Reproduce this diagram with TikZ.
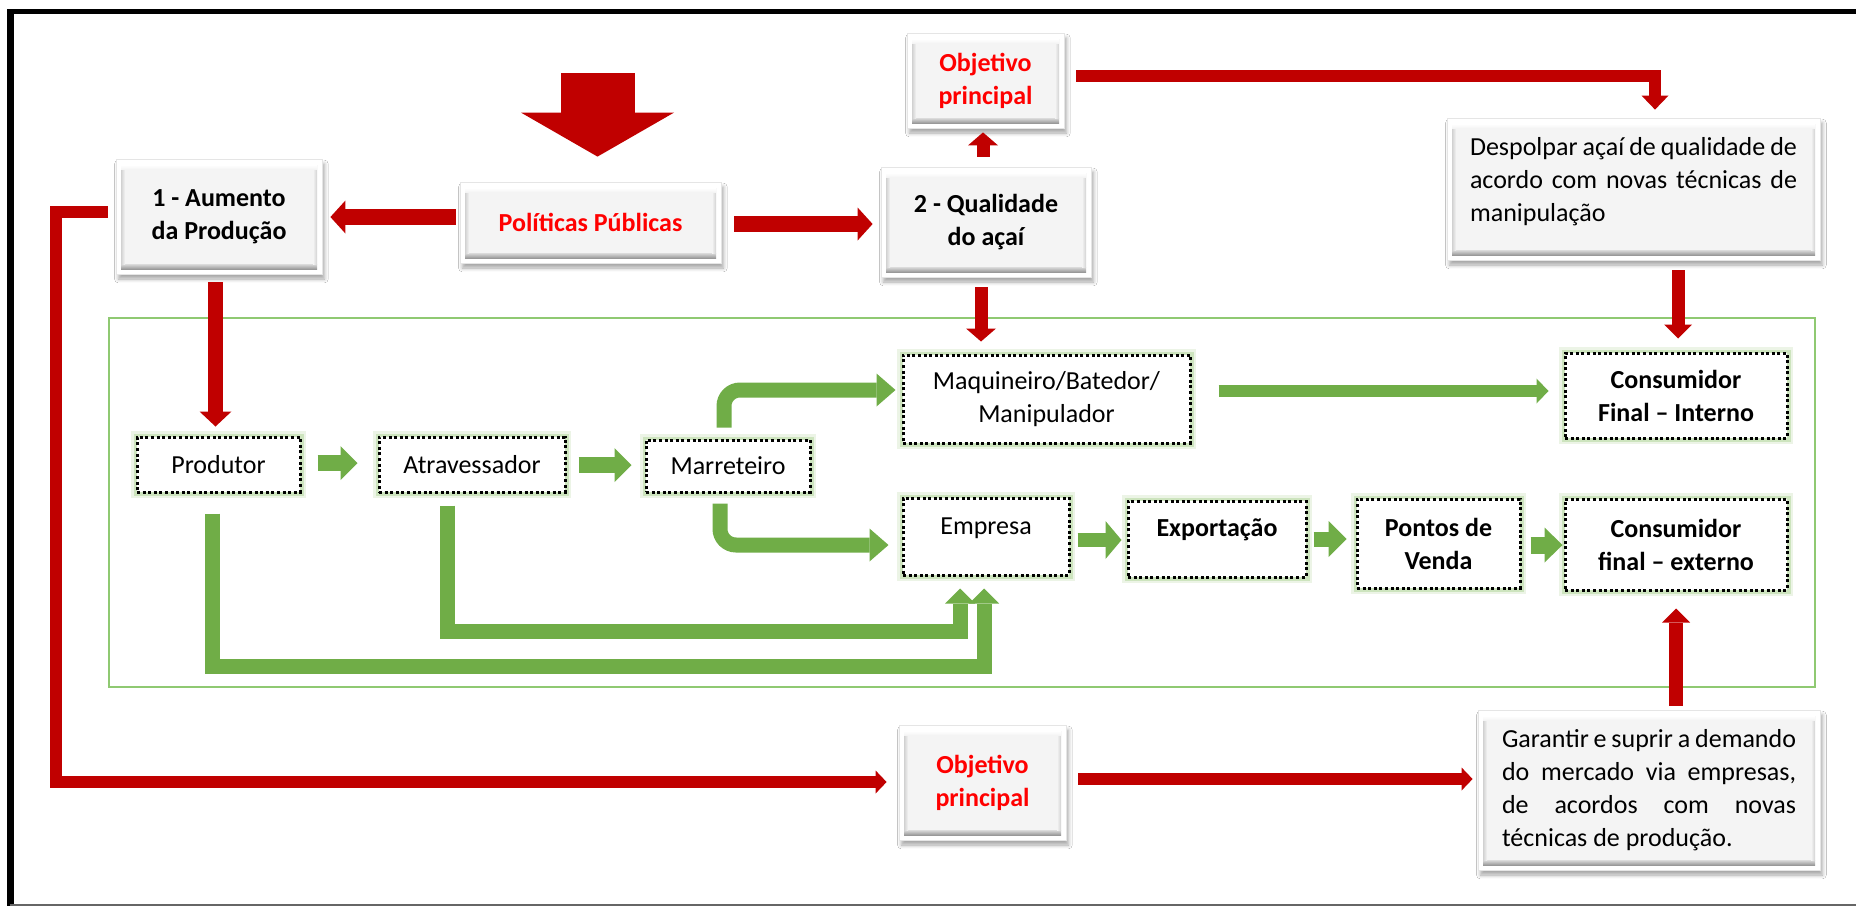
\documentclass[tikz,border=0pt]{standalone}
\usepackage{fontspec}
\setmainfont{Carlito}
\usetikzlibrary{arrows.meta,calc,shadows,shadows.blur}
\definecolor{darkred}{HTML}{C00000}
\definecolor{brightred}{HTML}{FF0000}
\definecolor{agreen}{HTML}{70AD47}
\definecolor{framegreen}{HTML}{8FC972}
\definecolor{glowgreen}{HTML}{A9D18E}
\definecolor{panel}{HTML}{F4F4F4}
\tikzset{
  txt/.style={font=\fontsize{13}{16.5}\selectfont},
  bf/.style={font=\fontsize{13}{16.5}\selectfont\bfseries},
  graybox/.style={rectangle, inner sep=0pt, draw=black!10, line width=0.4pt, fill=white, align=center, txt,
    blur shadow={shadow xshift=1.2pt, shadow yshift=-2.5pt, shadow blur steps=6, shadow opacity=35},
    path picture={
      \fill[panel] ([shift={(2.5pt,2.5pt)}]path picture bounding box.south west) rectangle ([shift={(-2.5pt,-3pt)}]path picture bounding box.north east);
      \shade[top color=black!14, bottom color=black!40] ([shift={(2.5pt,2.5pt)}]path picture bounding box.south west) rectangle ([shift={(-2.5pt,5pt)}]path picture bounding box.south east);
      \shade[left color=black!18, right color=panel] ([shift={(2.5pt,5pt)}]path picture bounding box.south west) rectangle ([shift={(4.5pt,-3pt)}]path picture bounding box.north west);
      \shade[left color=panel, right color=black!18] ([shift={(-4.5pt,5pt)}]path picture bounding box.south east) rectangle ([shift={(-2.5pt,-3pt)}]path picture bounding box.north east);
      \shade[top color=white, bottom color=panel] ([shift={(2.5pt,-5pt)}]path picture bounding box.north west) rectangle ([shift={(-2.5pt,-3pt)}]path picture bounding box.north east);
    }},
  dotbox/.style={rectangle, inner sep=0pt, fill=white, draw=black, line width=1.5pt,
    dash pattern=on 1.5pt off 1.3pt, align=center, txt,
    preaction={draw=glowgreen, solid, line width=6pt, opacity=0.22},
    preaction={draw=glowgreen, solid, line width=3.5pt, opacity=0.45}},
  redA/.style={draw=darkred, line width=6pt, -{Triangle[length=7pt, width=13.5pt, line width=0pt]}},
  redB/.style={draw=darkred, line width=6.5pt, -{Triangle[length=6.5pt, width=15pt, line width=0pt]}},
  redC/.style={draw=darkred, line width=8pt, -{Triangle[length=7.5pt, width=16.5pt, line width=0pt]}},
  redD/.style={draw=darkred, line width=6pt, -{Triangle[length=5.5pt, width=11.5pt, line width=0pt]}},
  bigarrow/.style={draw=darkred, line width=37pt, -{Triangle[length=22pt, width=76.5pt, line width=0pt]}},
  greenA/.style={draw=agreen, line width=8pt, -{Triangle[length=8.5pt, width=17pt, line width=0pt]}},
  greenB/.style={draw=agreen, line width=7.5pt, rounded corners=8pt, -{Triangle[length=9.5pt, width=16.5pt, line width=0pt]}},
  greenC/.style={draw=agreen, line width=6pt, -{Triangle[length=6pt, width=12.5pt, line width=0pt]}},
  greenD/.style={draw=agreen, line width=7.5pt, -{Triangle[length=7.5pt, width=15pt, line width=0pt]}},
}
\begin{document}
\begin{tikzpicture}[x=0.5pt, y=-0.5pt]
\useasboundingbox (0,0) rectangle (1856,906);
\fill[white] (0,0) rectangle (1856,906);
% outer frame
\draw[line width=2.5pt] (7,11) -- (1856,11);
\draw[line width=3.5pt] (10,9) -- (10,906);
\draw[black!60, line width=1pt] (10,904.5) -- (1856,904.5);
% green frame
\draw[framegreen, line width=1pt] (109,318) rectangle (1815,687);

% gray boxes
\node[graybox, bf, minimum width=103pt, minimum height=57.5pt] (aum) at (219,216.5) {1 - Aumento\\da Produção};
\node[graybox, bf, minimum width=130.5pt, minimum height=40.5pt, text=brightred] (pol) at (590.5,222.5) {Políticas Públicas};
\node[graybox, bf, minimum width=105pt, minimum height=55pt] (qual) at (986,222) {2 - Qualidade\\do açaí};
\node[graybox, bf, minimum width=78.5pt, minimum height=47.5pt, text=brightred] (obj1) at (985.5,80.5) {Objetivo\\principal};
\node[graybox, minimum width=186.5pt, minimum height=71pt, align=left] (desp) at (1633.5,189) {\raisebox{3.5pt}[\height][\depth]{\makebox[163.5pt][s]{Despolpar açaí de qualidade de}}\\\raisebox{3.5pt}[\height][\depth]{\makebox[163.5pt][s]{acordo com novas técnicas de}}\\\raisebox{3.5pt}[\height][\depth]{\makebox[163.5pt][l]{manipulação}}};
\node[graybox, bf, minimum width=83.5pt, minimum height=57.5pt, text=brightred] (obj2) at (982.5,782.5) {Objetivo\\principal};
\node[graybox, minimum width=171pt, minimum height=80pt, align=left] (gar) at (1649,790) {\makebox[147pt][s]{Garantir e suprir a demando}\\\makebox[147pt][s]{do mercado via empresas,}\\\makebox[147pt][s]{de acordos com novas}\\\makebox[147pt][l]{técnicas de produção.}};

% dotted boxes
\node[dotbox, minimum width=81.5pt, minimum height=27.5pt] (prod) at (218.5,464.5) {Produtor};
\node[dotbox, minimum width=93pt, minimum height=27.5pt] (atr) at (472,464.5) {Atravessador};
\node[dotbox, minimum width=82pt, minimum height=26pt] (mar) at (728,466) {Marreteiro};
\node[dotbox, minimum width=143.5pt, minimum height=44pt] (maq) at (1046.5,399) {Maquineiro/Batedor/\\Manipulador};
\node[dotbox, bf, minimum width=111pt, minimum height=42.5pt] (cint) at (1676,395.5) {Consumidor\\Final – Interno};
\node[dotbox, minimum width=83pt, minimum height=38.5pt] (emp) at (986,536.5) {\raisebox{4pt}[\height][\depth]{Empresa}};
\node[dotbox, bf, minimum width=89pt, minimum height=38pt] (exp) at (1217,539) {\raisebox{4.5pt}[\height][\depth]{Exportação}};
\node[dotbox, bf, minimum width=81.5pt, minimum height=44.5pt] (pv) at (1438.5,543.5) {Pontos de\\Venda};
\node[dotbox, bf, minimum width=111pt, minimum height=45.5pt] (cext) at (1676,544.5) {Consumidor\\final – externo};

% red connectors
\coordinate (bigtop) at (597.5,73);
\draw[bigarrow] (bigtop) -- ($(pol.north)+(7,-25)$);
\draw[redA] ($(obj1.east)+(12,-4.5)$) -| ($(desp.north)+(21.5,-8)$);
\draw[redB] ($(qual.north)+(-3,-10)$) -- ($(obj1.south)+(-2.5,4)$);
\draw[redC] ($(pol.west)+(-4,-5.5)$) -- ($(aum.east)+(8,0.5)$);
\draw[redC] ($(pol.east)+(13,1.5)$) -- ($(qual.west)+(-8,2)$);
\draw[draw=darkred, line width=7.5pt, -{Triangle[length=7.5pt, width=16pt, line width=0pt]}] ($(aum.south)+(-3.5,8)$) -- ($(prod.north)+(-3,-9)$);
\draw[redD] ($(aum.west)+(-8,-4.5)$) -- ++(-52,0) |- ($(obj2.west)+(-12,-0.5)$);
\draw[redD] ($(obj2.east)+(12,-3.5)$) -- ($(gar.west)+(-5,-11)$);
\draw[redB] ($(qual.south)+(-5,10)$) -- ($(maq.north)+(-65.5,-12)$);
\draw[redB, -{Triangle[length=7pt, width=14pt, line width=0pt]}] ($(desp.south)+(44.5,10)$) -- ($(cint.north)+(2,-13)$);
\draw[redB, line width=7pt, -{Triangle[length=7pt, width=14pt, line width=0pt]}] ($(gar.north)+(27,-4)$) -- ($(cext.south)+(0,17)$);

% green connectors
\draw[greenA] ($(prod.east)+(16,-1.5)$) -- ($(atr.west)+(-20,-1.5)$);
\draw[greenA] ($(atr.east)+(12,0.5)$) -- ($(mar.west)+(-13,-1)$);
\draw[greenB] ($(mar.north)+(-4,-11)$) |- ($(maq.west)+(-6,-9)$);
\draw[greenB] ($(mar.south)+(-8,10)$) |- ($(emp.west)+(-13,8.5)$);
\draw[greenC] ($(maq.east)+(27,-8)$) -- ($(cint.west)+(-15,-4.5)$);
\draw[greenA, line width=7pt, -{Triangle[length=8pt, width=19pt, line width=0pt]}] ($(emp.east)+(7,3.5)$) -- ($(exp.west)+(-5,1)$);
\draw[greenA, line width=7.5pt, -{Triangle[length=9pt, width=18pt, line width=0pt]}] ($(exp.east)+(6,0)$) -- ($(pv.west)+(-9,-4.5)$);
\draw[greenA, line width=8.5pt, -{Triangle[length=9pt, width=17.5pt, line width=0pt]}] ($(pv.east)+(9,1.5)$) -- ($(cext.west)+(-1,0.5)$);
\draw[greenD] ($(prod.south)+(-6.5,20)$) -- ++(0,153) -| ($(emp.south)+(-2,12)$);
\draw[greenD] ($(atr.south)+(-25,12)$) -- ++(0,126) -| ($(emp.south)+(-26,12)$);
\end{tikzpicture}
\end{document}
